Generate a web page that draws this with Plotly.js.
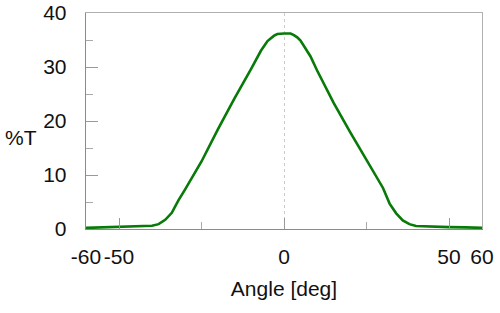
<!DOCTYPE html>
<html>
<head>
<meta charset="utf-8">
<script src="https://cdn.plot.ly/plotly-3.0.1.min.js"></script>
<style>html,body{margin:0;padding:0;background:#fff;}#chart{width:500px;height:313px;}</style>
</head>
<body>
<div id="chart"></div>
<script>
// Data
const angleDeg = [-60, -55, -50, -45, -42, -40, -38, -36, -34, -32, -30, -25, -20, -15, -10, -7, -5, -3, -2, -1, 0, 1, 2, 3, 4, 5, 6, 8, 10, 15, 20, 25, 30, 32, 34, 36, 38, 40, 45, 50, 55, 60];
const transmission = [0.2, 0.3, 0.4, 0.45, 0.5, 0.6, 0.9, 1.7, 3.0, 5.3, 7.3, 12.5, 18.5, 24.2, 29.6, 33.0, 34.8, 35.8, 36.1, 36.2, 36.2, 36.2, 36.2, 35.9, 35.5, 34.9, 34.0, 32.0, 29.4, 23.4, 18.0, 12.8, 7.6, 4.7, 2.9, 1.6, 0.9, 0.55, 0.4, 0.35, 0.3, 0.2];

const xTickVals = [-60, -50, 0, 50, 60];
const xTickText = ['-60', '-50', '0', '50', '60'];
const xMinorTicks = [-25, 25];
const yTickVals = [0, 10, 20, 30, 40];
const yTickText = ['0', '10', '20', '30', '40'];

const fontFam = '"Liberation Sans", Arial, sans-serif';

const traces = [
  {x: angleDeg, y: transmission, type: 'scatter', mode: 'lines',
   line: {color: '#077a07', width: 2.6}, hoverinfo: 'skip', xaxis: 'x', yaxis: 'y'},
  {x: angleDeg, y: transmission, type: 'scatter', mode: 'lines',
   line: {color: 'rgba(0,0,0,0)', width: 0}, hoverinfo: 'skip', xaxis: 'x2', yaxis: 'y2', showlegend: false}
];

const layout = {
  width: 500, height: 313,
  margin: {l: 86, r: 18, t: 13, b: 84},
  paper_bgcolor: '#fff', plot_bgcolor: '#fff',
  showlegend: false,
  font: {family: fontFam, size: 21, color: '#111'},
  xaxis: {
    range: [-60, 60], tickmode: 'array', tickvals: xTickVals, ticktext: xTickText,
    ticks: 'inside', ticklen: 11, tickcolor: '#999', tickwidth: 1,
    minor: {tickmode: 'array', tickvals: xMinorTicks, ticks: 'inside', ticklen: 7, tickcolor: '#aaa', tickwidth: 1, showgrid: false},
    showgrid: false, zeroline: false, showline: true, linecolor: '#8a8a8a', linewidth: 1.3,
    ticklabelstandoff: 8,
    title: {text: 'Angle [deg]', font: {family: fontFam, size: 21, color: '#111'}, standoff: 14},
    tickfont: {family: fontFam, size: 21, color: '#111'}
  },
  xaxis2: {
    overlaying: 'x', anchor: 'y2', side: 'top', range: [-60, 60],
    tickmode: 'array', tickvals: [0], showticklabels: false, ticks: '',
    showgrid: true, griddash: 'dot', gridcolor: '#cacaca', gridwidth: 1,
    zeroline: false, showline: true, linecolor: '#b0b0b0', linewidth: 1.3
  },
  yaxis: {
    range: [0, 40], tickmode: 'array', tickvals: yTickVals, ticktext: yTickText,
    ticks: 'inside', ticklen: 12, tickcolor: '#999', tickwidth: 1,
    minor: {dtick: 5, ticks: 'inside', ticklen: 7, tickcolor: '#aaa', tickwidth: 1, showgrid: false},
    showgrid: false, zeroline: false, showline: true, linecolor: '#8a8a8a', linewidth: 1.3,
    ticklabelstandoff: 14,
    tickfont: {family: fontFam, size: 21, color: '#111'}
  },
  yaxis2: {
    overlaying: 'y', anchor: 'x2', side: 'right', range: [0, 40],
    showticklabels: false, ticks: '', showgrid: false, zeroline: false,
    showline: true, linecolor: '#b0b0b0', linewidth: 1.3
  },
  annotations: [
    {text: '%T', xref: 'paper', yref: 'paper', x: -0.165, y: 0.425, xanchor: 'center', yanchor: 'middle',
     showarrow: false, font: {family: fontFam, size: 21, color: '#111'}}
  ]
};

Plotly.newPlot('chart', traces, layout, {staticPlot: true, displayModeBar: false});
</script>
</body>
</html>
